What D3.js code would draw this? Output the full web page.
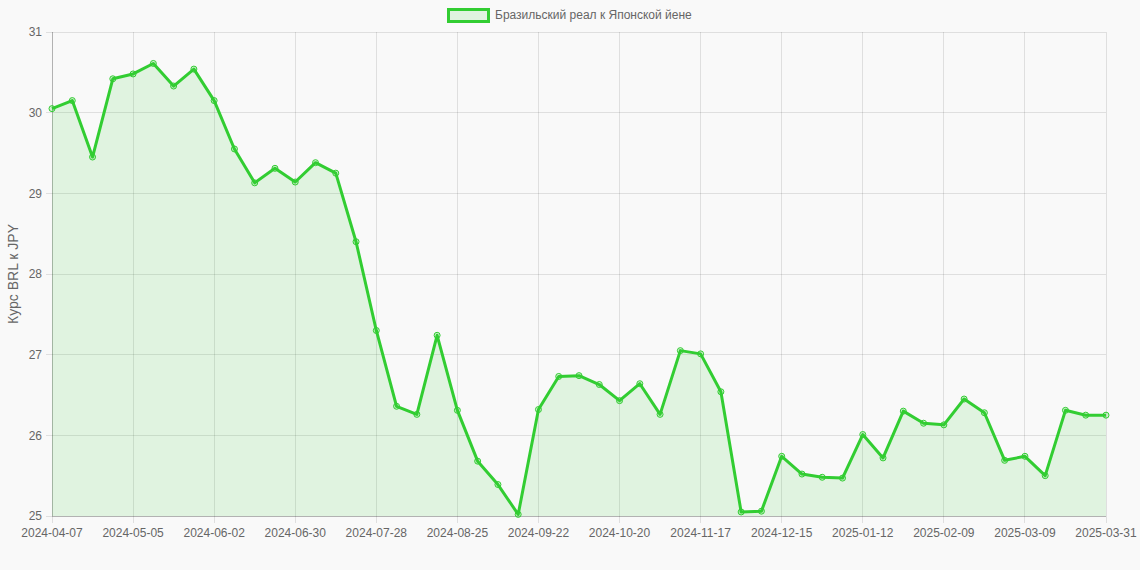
<!DOCTYPE html>
<html>
<head>
<meta charset="utf-8">
<script src="https://cdn.jsdelivr.net/npm/d3@7"></script>
<style>
html,body{margin:0;padding:0;background:#f9f9f9;}
svg{display:block;font-family:"Liberation Sans",Arial,Helvetica,sans-serif;}
</style>
</head>
<body>
<svg id="chart" width="1140" height="570"></svg>
<script>
const seriesName = "Бразильский реал к Японской йене";
const yTitle = "Курс BRL к JPY";
const startDate = "2024-04-07";
const lastDate = "2025-03-31";
const values = [
  30.05, 30.15, 29.45, 30.42, 30.48, 30.61, 30.33, 30.54, 30.15, 29.55,
  29.13, 29.31, 29.14, 29.38, 29.25, 28.40, 27.30, 26.36, 26.26, 27.24,
  26.31, 25.68, 25.39, 25.02, 26.32, 26.73, 26.74, 26.63, 26.43, 26.64,
  26.26, 27.05, 27.01, 26.54, 25.05, 25.06, 25.74, 25.52, 25.48, 25.47,
  26.01, 25.72, 26.30, 26.15, 26.13, 26.45, 26.28, 25.69, 25.74, 25.50,
  26.31, 26.25, 26.25
];
const yTicks = [25, 26, 27, 28, 29, 30, 31];

(function () {
// weekly category labels
const fmt = d3.utcFormat("%Y-%m-%d");
const categories = values.map((v, i) =>
  i === values.length - 1 ? lastDate : fmt(d3.utcDay.offset(new Date(startDate + "T00:00:00Z"), 7 * i)));
const labelEvery = 4;

const svg = d3.select("#chart");
const mLeft = 52, mRight = 1106, mTop = 32, mBottom = 516;

const x = d3.scalePoint().domain(categories).range([mLeft, mRight]);
const y = d3.scaleLinear().domain([25, 31]).range([mBottom, mTop]);

const shown = categories.filter((c, i) => i % labelEvery === 0 || i === categories.length - 1);

// grid
const g = svg.append("g");
g.selectAll(".hg").data(yTicks).join("line")
  .attr("x1", mLeft - 6).attr("x2", mRight)
  .attr("y1", d => y(d)).attr("y2", d => y(d))
  .attr("stroke", "rgba(0,0,0,0.1)").attr("stroke-width", 1).attr("shape-rendering", "crispEdges");
g.selectAll(".vg").data(shown).join("line")
  .attr("x1", d => x(d)).attr("x2", d => x(d))
  .attr("y1", mTop).attr("y2", mBottom + 7)
  .attr("stroke", "rgba(0,0,0,0.1)").attr("stroke-width", 1).attr("shape-rendering", "crispEdges");
// axis lines
g.append("line").attr("x1", mLeft).attr("x2", mLeft).attr("y1", mTop).attr("y2", mBottom)
  .attr("stroke", "rgba(0,0,0,0.2)").attr("shape-rendering", "crispEdges");
g.append("line").attr("x1", mLeft).attr("x2", mRight).attr("y1", mBottom).attr("y2", mBottom)
  .attr("stroke", "rgba(0,0,0,0.2)").attr("shape-rendering", "crispEdges");

// area and line
const data = categories.map((c, i) => ({c, v: values[i]}));
svg.append("path").datum(data)
  .attr("d", d3.area().x(d => x(d.c)).y0(y(25)).y1(d => y(d.v)))
  .attr("fill", "rgba(50,205,50,0.12)");
svg.append("path").datum(data)
  .attr("d", d3.line().x(d => x(d.c)).y(d => y(d.v)))
  .attr("fill", "none").attr("stroke", "#32cd32").attr("stroke-width", 3)
  .attr("stroke-linejoin", "round");
svg.selectAll(".pt").data(data).join("circle")
  .attr("cx", d => x(d.c)).attr("cy", d => y(d.v)).attr("r", 3)
  .attr("fill", "rgba(50,205,50,0.2)").attr("stroke", "#32cd32").attr("stroke-width", 1);

// y tick labels
svg.selectAll(".yl").data(yTicks).join("text")
  .attr("x", mLeft - 10).attr("y", d => y(d)).attr("dy", "0.35em")
  .attr("text-anchor", "end").attr("font-size", 12).attr("fill", "#666")
  .text(d => d);
// x tick labels
svg.selectAll(".xl").data(shown).join("text")
  .attr("x", d => x(d)).attr("y", mBottom + 17).attr("dy", "0.35em")
  .attr("text-anchor", "middle").attr("font-size", 12).attr("fill", "#666")
  .text(d => d);

// y title
svg.append("text")
  .attr("transform", `translate(13,${(mTop + mBottom) / 2}) rotate(-90)`)
  .attr("text-anchor", "middle").attr("dy", "0.35em")
  .attr("font-size", 14).attr("fill", "#666").text(yTitle);

// legend
const lg = svg.append("g");
lg.append("rect").attr("x", 448.5).attr("y", 9.5).attr("width", 40).attr("height", 12)
  .attr("fill", "rgba(50,205,50,0.12)").attr("stroke", "#32cd32").attr("stroke-width", 3);
lg.append("text").attr("x", 495).attr("y", 15).attr("dy", "0.35em")
  .attr("font-size", 12).attr("fill", "#666").text(seriesName);
})();
</script>
</body>
</html>
